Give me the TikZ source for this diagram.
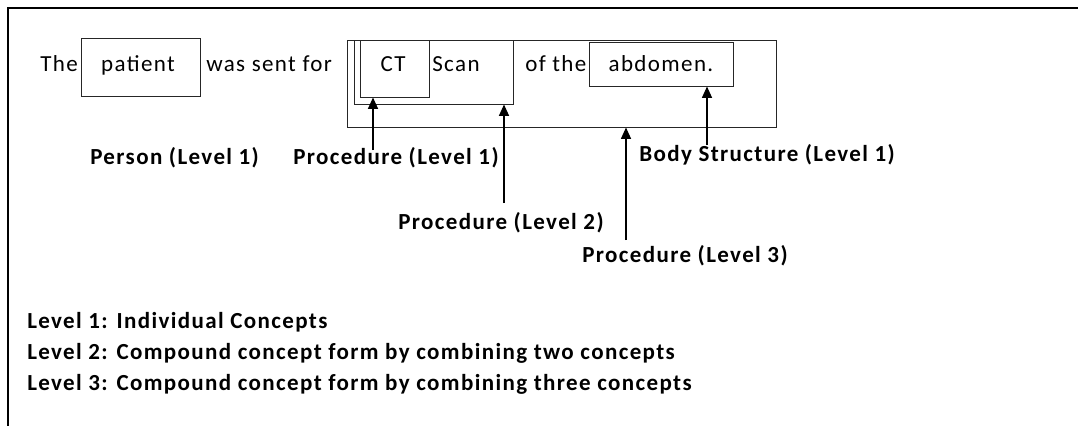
\documentclass[tikz,border=0pt]{standalone}
\usepackage{fontspec}
\setmainfont{Carlito}[LetterSpace=6]
\usetikzlibrary{arrows.meta,fit}
\begin{document}
\begin{tikzpicture}[x=0.75pt,y=-0.75pt,
  box/.style={draw=black!85, line width=0.75pt, inner sep=0pt},
  txt/.style={font=\fontsize{17.25pt}{20pt}\selectfont, inner sep=0pt, anchor=base west},
  ctxt/.style={txt, anchor=base},
  lbl/.style={font=\fontsize{17.25pt}{20pt}\selectfont\bfseries, inner sep=0pt, anchor=base west},
  arr/.style={draw=black, line width=0.9pt, -{Triangle[width=7.5pt,length=8.5pt]}}]
\useasboundingbox (0,0) rectangle (1078,426);
\fill[white] (0,0) rectangle (1078,426);
\draw[line width=1.5pt] (1078,8) -- (8,8) -- (8,426);
% sentence
\node[txt] (the) at (40,71) {The};
\node[box, fit={(81,38) (200,96)}] (patientbox) {};
\node[ctxt] (patient) at (138,71) {patient};
\node[txt] (sent) at (206,71) {was sent for};
\node[box, fit={(347,40) (776,127)}] (lvl3) {};
\node[box, fit={(354,40) (513,104)}] (lvl2) {};
\node[box, fit={(360,40) (429,97)}] (ct) {};
\node[ctxt] (cttext) at (393,71) {CT};
\node[txt] (scan) at (432,71) {Scan};
\node[txt] (ofthe) at (525,71) {of the};
\node[box, fit={(589,42) (733,86)}] (abd) {};
\node[ctxt] (abdtext) at (661,71) {abdomen.};
% labels
\node[lbl] (lperson) at (90,164) {Person (Level 1)};
\node[lbl] (lproc1) at (293,164) {Procedure (Level 1)};
\node[lbl] (lbody) at (639,161) {Body Structure (Level 1)};
\node[lbl] (lproc2) at (398,229) {Procedure (Level 2)};
\node[lbl] (lproc3) at (582,262) {Procedure (Level 3)};
% arrows
\coordinate (a1) at (373,150);
\coordinate (a2) at (504,203);
\coordinate (a3) at (626,240);
\coordinate (a4) at (707,145);
\draw[arr] (a1) -- (a1 |- ct.south);
\draw[arr] (a2) -- (a2 |- lvl2.south);
\draw[arr] (a3) -- (a3 |- lvl3.south);
\draw[arr] (a4) -- (a4 |- abd.south);
% legend
\node[lbl] (leg1) at (27,328) {Level 1: Individual Concepts};
\node[lbl] (leg2) at (27,359) {Level 2: Compound concept form by combining two concepts};
\node[lbl] (leg3) at (27,390) {Level 3: Compound concept form by combining three concepts};
\end{tikzpicture}
\end{document}
